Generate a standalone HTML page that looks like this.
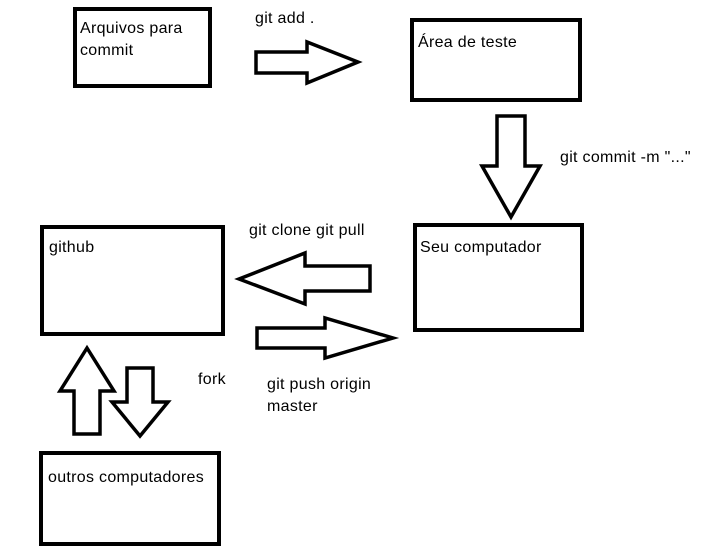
<!DOCTYPE html>
<html><head><style>
html,body{margin:0;padding:0;background:#fff;}
svg{display:block;}
text{font-family:"Liberation Sans",sans-serif;font-size:16px;letter-spacing:0.3px;fill:#000;}
</style></head><body>
<svg width="706" height="556" viewBox="0 0 706 556">
<g fill="none" stroke="#000" stroke-width="4">
<rect x="75" y="9" width="135" height="77"/>
<rect x="412" y="20" width="168" height="80"/>
<rect x="415" y="225" width="167" height="105"/>
<rect x="42" y="227" width="181" height="107"/>
<rect x="41" y="453" width="178" height="91"/>
</g>
<g fill="none" stroke="#000" stroke-width="3.5" stroke-linejoin="miter">
<polygon points="256,52 307,52 307,42 358,62 307,83 307,73 256,73"/>
<polygon points="497,116 525,116 525,166 540,166 511,217 482,166 497,166"/>
<polygon points="370,266 305,266 305,253 239,279 305,304 305,291 370,291"/>
<polygon points="257,328 325,328 325,318 393,338 325,358 325,348 257,348"/>
<polygon points="74,434 100,434 100,391 114,391 87,348 60,391 74,391"/>
<polygon points="127,368 153,368 153,402 168,402 140,436 112,402 127,402"/>
</g>
<text x="80" y="33">Arquivos para</text>
<text x="80" y="55">commit</text>
<text x="255" y="23">git add .</text>
<text x="418" y="47">Área de teste</text>
<text x="560" y="162">git commit -m "..."</text>
<text x="249" y="235">git clone git pull</text>
<text x="49" y="252">github</text>
<text x="420" y="252">Seu computador</text>
<text x="198" y="384">fork</text>
<text x="267" y="389">git push origin</text>
<text x="267" y="411">master</text>
<text x="48" y="482">outros computadores</text>
</svg>
</body></html>
